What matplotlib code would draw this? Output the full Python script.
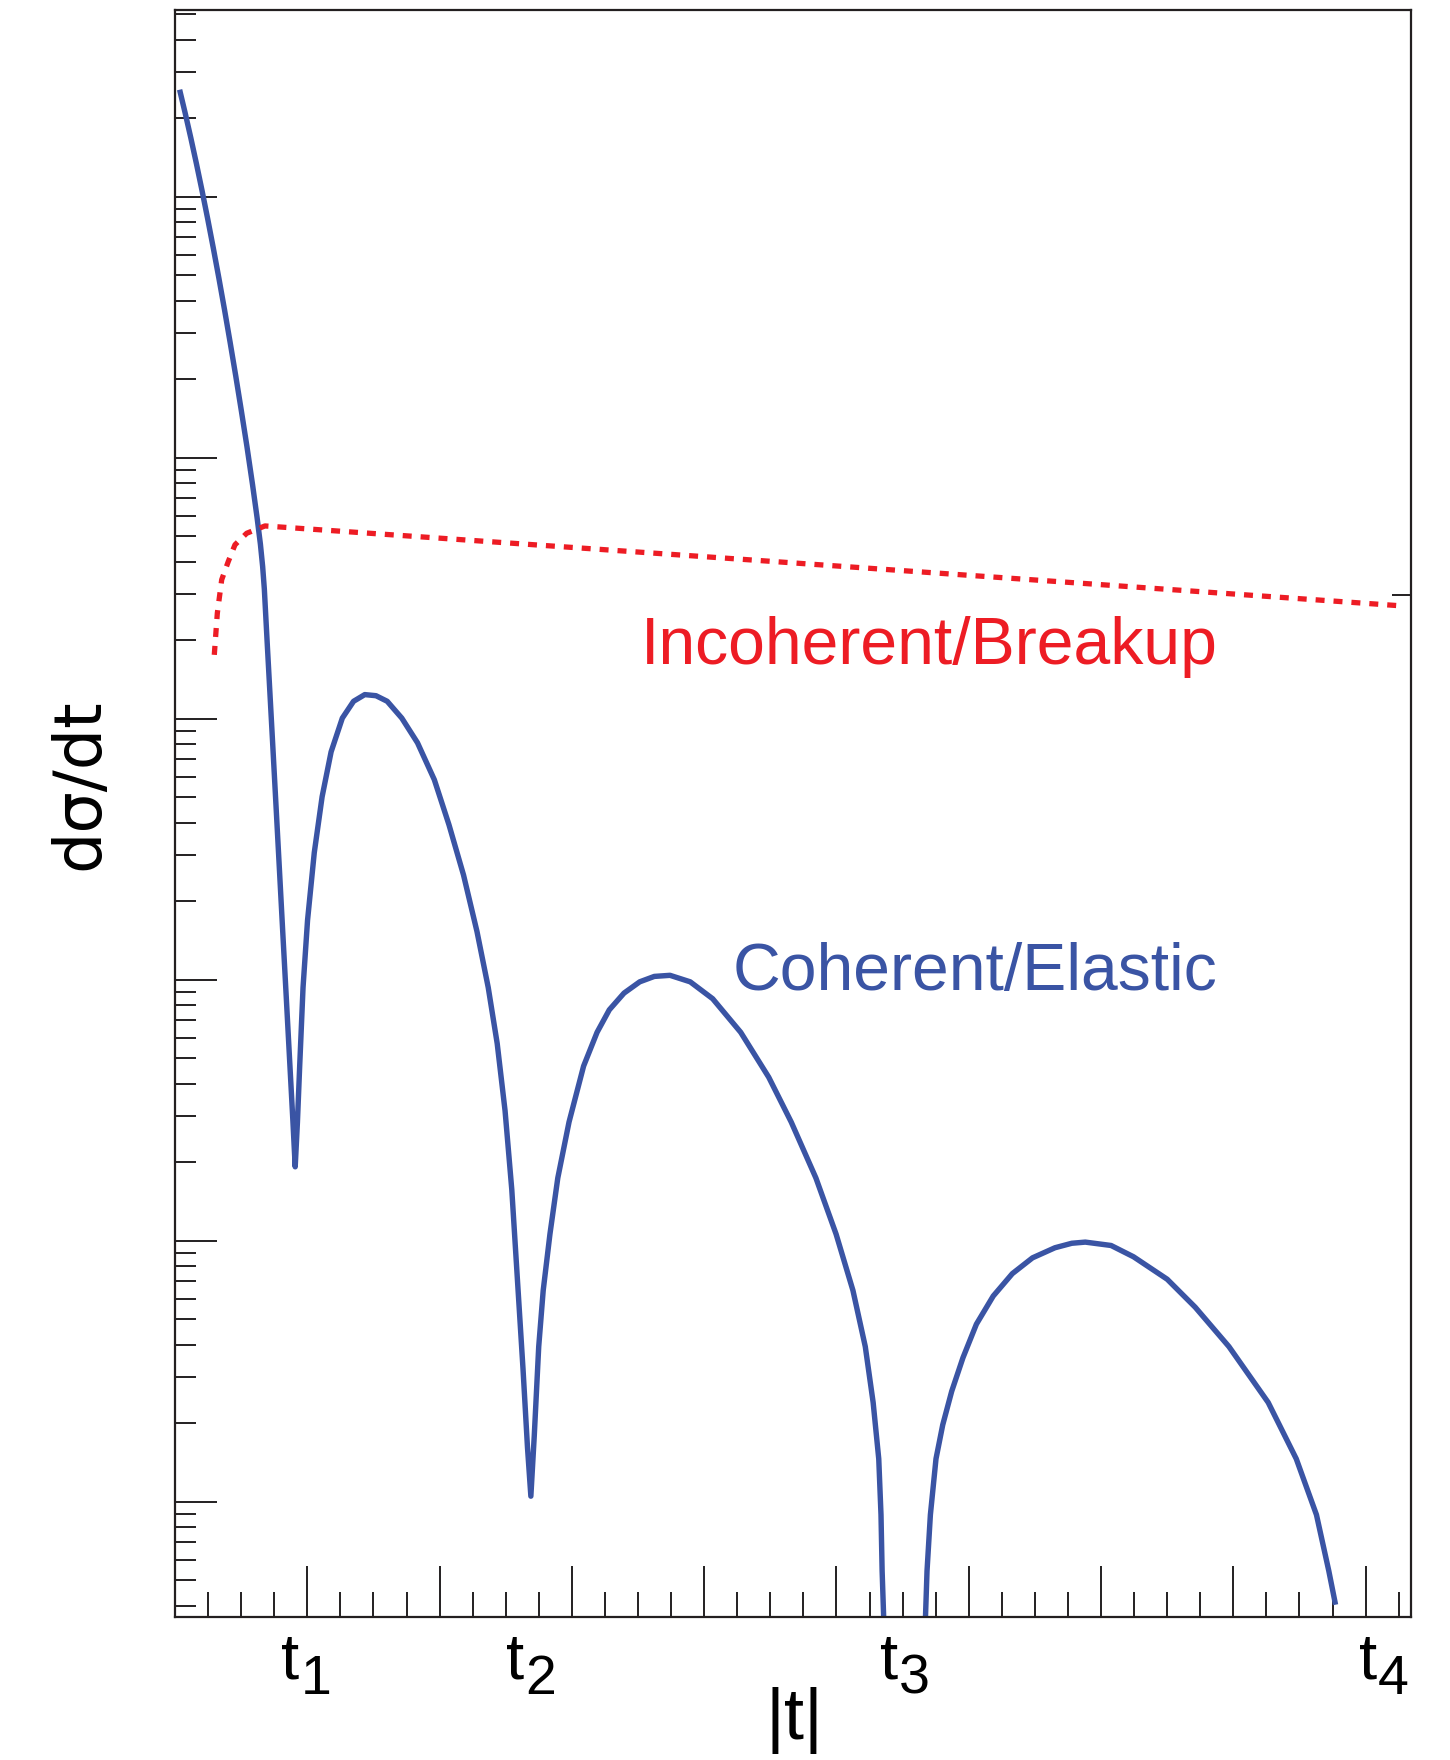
import matplotlib
matplotlib.use("Agg")
import matplotlib.pyplot as plt
from matplotlib.ticker import LogLocator, MultipleLocator, NullFormatter, NullLocator
import numpy as np

plt.rcParams['font.family'] = ['Liberation Sans', 'DejaVu Sans']

# ---------------- data ----------------
# |t| in arbitrary units (major tick = 1), dsigma/dt in arbitrary units (log scale)
# coherent / elastic : lobes 1-3 (continuous), then lobe 4 after the third minimum
coh_t_a = [0.0348, 0.0772, 0.1197, 0.1621, 0.2045, 0.2469, 0.2893, 0.3318, 0.3742, 0.4165,
           0.4590, 0.5014, 0.5438, 0.5862, 0.6201, 0.6456, 0.6626, 0.6753, 0.6965, 0.7177,
           0.7389, 0.7644, 0.7898, 0.8152, 0.8407, 0.8661, 0.8916, 0.9086,
           0.9255, 0.9425, 0.9679, 1.0019, 1.0528, 1.1121, 1.1800, 1.2648, 1.3497, 1.4345,
           1.5193, 1.6041, 1.7144, 1.8332, 1.9604, 2.0707, 2.1810, 2.2828, 2.3676, 2.4355,
           2.4949, 2.5458, 2.5882, 2.6306, 2.6646, 2.6900,
           2.7155, 2.7494, 2.7833, 2.8342, 2.8936, 2.9785, 3.0887, 3.1905, 3.2829, 3.3941,
           3.5128, 3.6231, 3.7418, 3.8945, 4.0642, 4.2762, 4.4883, 4.6580, 4.8446, 4.9973,
           5.1246, 5.2179, 5.2773, 5.3197, 5.3367, 5.3452, 5.3622]
coh_s_a = [2.574e5, 2.091e5, 1.681e5, 1.339e5, 1.056e5, 8.245e4, 6.374e4, 4.878e4, 3.697e4,
           2.774e4, 2.062e4, 1.516e4, 1.105e4, 7.889e3, 5.920e3, 4.668e3, 3.829e3, 3.142e3,
           1.972e3, 1.251e3, 793, 456, 262, 150, 86.4, 49.6, 28.5, 19.2,
           28.5, 46.7, 93.5, 169, 307, 503, 747, 1006, 1167, 1238,
           1226, 1167, 1006, 809, 584, 393, 252, 153, 93.5, 57.0,
           31.5, 15.7, 7.12, 3.23, 1.61, 1.05,
           1.78, 3.93, 6.45, 10.6, 17.4, 28.5, 46.7, 62.9, 76.7, 88.9,
           98.2, 103, 104, 98.2, 84.6, 62.9, 42.3, 28.5, 17.4, 10.6,
           6.45, 3.93, 2.40, 1.46, 0.891, 0.543, 0.300]

coh_t_b = [5.6676, 5.6846, 5.7100, 5.7524, 5.8033, 5.8712, 5.9560, 6.0578, 6.1851, 6.3293,
           6.4820, 6.6516, 6.7790, 6.8808, 7.0759, 7.2456, 7.5001, 7.7122, 7.9667, 8.2636,
           8.4757, 8.6284, 8.7217, 8.7726]
coh_s_b = [0.300, 0.543, 0.891, 1.46, 1.97, 2.65, 3.56, 4.79, 6.14, 7.48,
           8.60, 9.40, 9.78, 9.88, 9.59, 8.68, 7.12, 5.56, 3.93, 2.40,
           1.46, 0.891, 0.543, 0.403]

# incoherent / breakup
inc_t = [0.297, 0.32, 0.353, 0.403, 0.4535, 0.542, 0.68, 4.6, 9.264]
inc_s = [1758, 2541, 3412, 4009, 4645, 5140, 5483, 3981, 2710]

t_label_pos = [0.967, 2.666, 5.495, 9.11]
t_label_sub = ['1', '2', '3', '4']
right_tick = [2985]

x_label = '|t|'
y_label = 'dσ/dt'
label_coh = 'Coherent/Elastic'
label_inc = 'Incoherent/Breakup'

BLUE = '#3A54A4'
RED = '#ED1C24'
DARK = '#231F20'

# ---------------- figure ----------------
W, H = 1450, 1760
fig = plt.figure(figsize=(W / 100, H / 100), dpi=100)
L, R, T, B = 175, 1411, 10, 1617
ax = fig.add_axes([L / W, 1 - B / H, (R - L) / W, (B - T) / H])

ax.set_yscale('log')
ax.set_xlim(0, 9.343)
ax.set_ylim(0.3616, 5.2e5)

ax.plot(coh_t_a, coh_s_a, color=BLUE, lw=3.9, solid_joinstyle='round', solid_capstyle='butt')
ax.plot(coh_t_b, coh_s_b, color=BLUE, lw=3.9, solid_joinstyle='round', solid_capstyle='butt')
ax.plot(inc_t, inc_s, color=RED, lw=3.8, linestyle=(0, (1.7, 1.7)), dash_capstyle='butt')

# ticks
ax.xaxis.set_major_locator(MultipleLocator(1))
ax.xaxis.set_minor_locator(MultipleLocator(0.25))
ax.yaxis.set_major_locator(LogLocator(base=10, numticks=50))
ax.yaxis.set_minor_locator(LogLocator(base=10, subs=np.arange(2, 10), numticks=50))
for axis in (ax.xaxis, ax.yaxis):
    axis.set_major_formatter(NullFormatter())
    axis.set_minor_formatter(NullFormatter())
ax.tick_params(axis='x', which='major', direction='in', length=36.5, width=1.4, color=DARK)
ax.tick_params(axis='x', which='minor', direction='in', length=18, width=1.4, color=DARK)
ax.tick_params(axis='y', which='major', direction='in', length=30, width=1.4, color=DARK)
ax.tick_params(axis='y', which='minor', direction='in', length=15.4, width=1.4, color=DARK)
for sp in ax.spines.values():
    sp.set_color(DARK)
    sp.set_linewidth(1.6)

# single tick on the right frame
tw = ax.twinx()
tw.set_yscale('log')
tw.set_ylim(ax.get_ylim())
tw.set_yticks(right_tick)
tw.yaxis.set_minor_locator(NullLocator())
tw.yaxis.set_major_formatter(NullFormatter())
tw.tick_params(axis='y', which='major', direction='in', length=13.7, width=1.4, color=DARK)
for sp in tw.spines.values():
    sp.set_visible(False)

# curve labels
ax.text(7.879, 1625, label_inc, color=RED, fontsize=47.6, ha='right', va='baseline')
ax.text(7.879, 91.6, label_coh, color=BLUE, fontsize=47.6, ha='right', va='baseline')

# t_n labels under the axis
xt = ax.get_xaxis_transform()
for xc, n in zip(t_label_pos, t_label_sub):
    ax.annotate('t', xy=(xc, 0), xycoords=xt, xytext=(-2.5, -44.6), textcoords='offset points',
                ha='right', va='baseline', fontsize=47, color='black', annotation_clip=False)
    ax.annotate(n, xy=(xc, 0), xycoords=xt, xytext=(-1.9, -55.4), textcoords='offset points',
                ha='left', va='baseline', fontsize=40, color='black', annotation_clip=False)

ax.annotate(x_label, xy=(4.686, 0), xycoords=xt, xytext=(0, -87.5), textcoords='offset points',
            ha='center', va='baseline', fontsize=52, color='black', annotation_clip=False)

fig.text(80 / W, 1 - 784 / H, y_label, rotation=90, ha='center', va='center', fontsize=47,
         color='black', family=['DejaVu Sans'])

fig.savefig('out.png', dpi=100, facecolor='white')
